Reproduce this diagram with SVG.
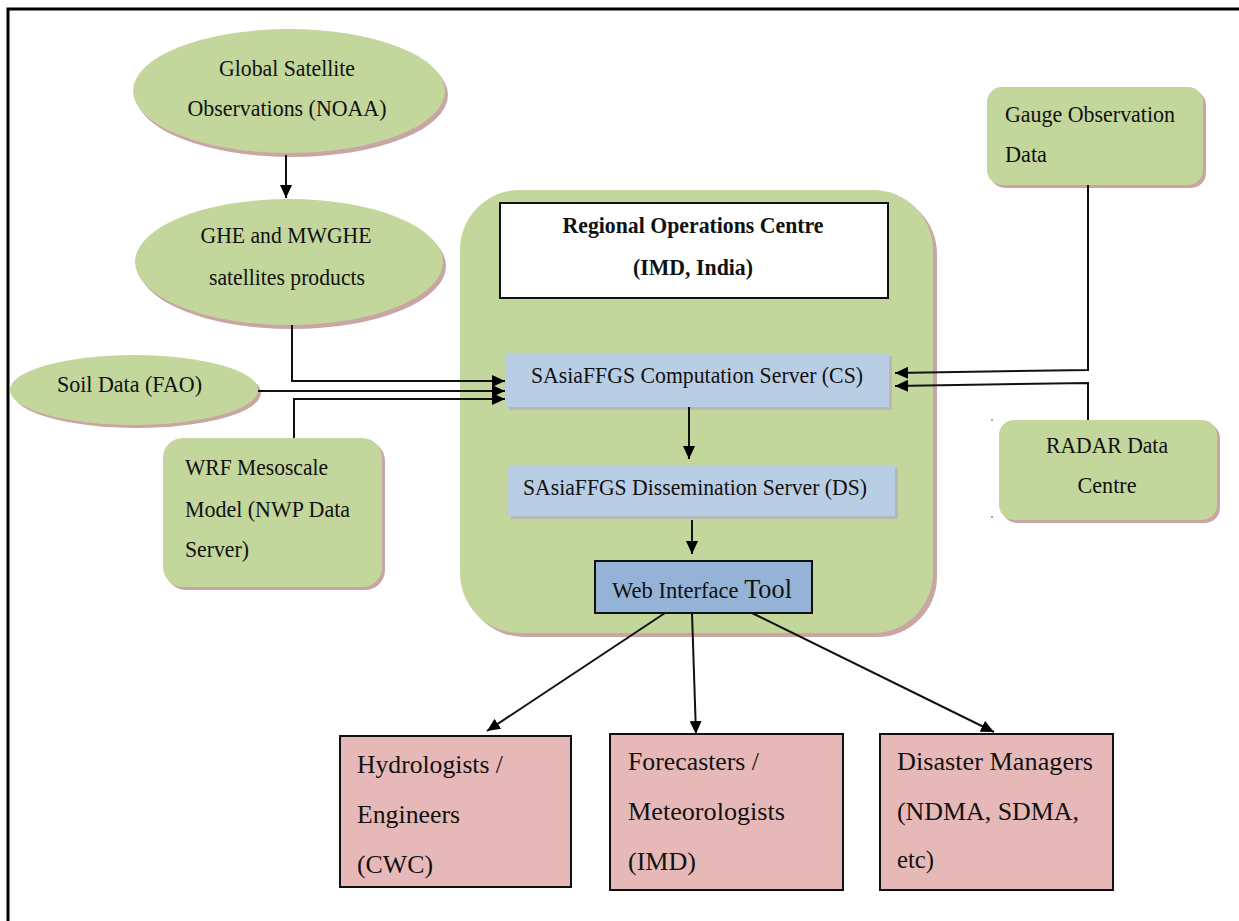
<svg xmlns="http://www.w3.org/2000/svg" width="1239" height="921" viewBox="0 0 1239 921">
<defs>
<marker id="ah" markerUnits="userSpaceOnUse" markerWidth="14" markerHeight="12" refX="13" refY="6" orient="auto">
<path d="M0,0 L13,6 L0,12 Z" fill="#000"/>
</marker>
<style>
.t{font-family:"Liberation Serif","Times New Roman",serif;font-size:24px;fill:#111;}
.tb{font-family:"Liberation Serif","Times New Roman",serif;font-size:23px;font-weight:bold;fill:#111;}
.tl{font-family:"Liberation Serif","Times New Roman",serif;font-size:26px;fill:#111;}
.big{font-size:28px;}
.g{fill:#c3d69b;}
.sh{fill:#c9a6a4;}
.bsh{fill:#b8b8b8;}
.pk{fill:#e6b9b8;stroke:#111;stroke-width:2;}
.ln{fill:none;stroke:#111;stroke-width:2;}
</style>
</defs>
<rect x="0" y="0" width="1239" height="921" fill="#fff"/>
<rect x="8" y="9" width="1260" height="960" fill="none" stroke="#000" stroke-width="3"/>

<g id="roc">
<rect class="sh" x="464" y="194" width="473" height="443" rx="60"/>
<rect class="g" x="460" y="190" width="473" height="443" rx="60"/>
</g>

<g id="global-satellite">
<ellipse class="sh" cx="292" cy="95" rx="156" ry="62"/>
<ellipse class="g" cx="289" cy="91" rx="156" ry="62"/>
<text class="t" x="287" y="76" text-anchor="middle" textLength="136" lengthAdjust="spacingAndGlyphs">Global Satellite</text>
<text class="t" x="287" y="116" text-anchor="middle" textLength="199" lengthAdjust="spacingAndGlyphs">Observations (NOAA)</text>
</g>

<g id="ghe">
<ellipse class="sh" cx="292" cy="266" rx="154" ry="63"/>
<ellipse class="g" cx="289" cy="262" rx="154" ry="63"/>
<text class="t" x="286" y="243" text-anchor="middle" textLength="171" lengthAdjust="spacingAndGlyphs">GHE and MWGHE</text>
<text class="t" x="287" y="285" text-anchor="middle" textLength="156" lengthAdjust="spacingAndGlyphs">satellites products</text>
</g>

<g id="soil">
<ellipse class="sh" cx="137" cy="393" rx="124" ry="35"/>
<ellipse class="g" cx="134" cy="390" rx="124" ry="35"/>
<text class="t" x="57" y="392" textLength="145" lengthAdjust="spacingAndGlyphs">Soil Data (FAO)</text>
</g>

<g id="wrf">
<rect class="sh" x="166" y="441" width="219" height="149" rx="20"/>
<rect class="g" x="163" y="438" width="219" height="149" rx="20"/>
<text class="t" x="185" y="475" textLength="143" lengthAdjust="spacingAndGlyphs">WRF Mesoscale</text>
<text class="t" x="185" y="517" textLength="165" lengthAdjust="spacingAndGlyphs">Model (NWP Data</text>
<text class="t" x="185" y="557" textLength="64" lengthAdjust="spacingAndGlyphs">Server)</text>
</g>

<g id="roc-title">
<rect x="500" y="203" width="388" height="95" fill="#fff" stroke="#111" stroke-width="2"/>
<text class="tb" x="693" y="233" text-anchor="middle" textLength="261" lengthAdjust="spacingAndGlyphs">Regional Operations Centre</text>
<text class="tb" x="693" y="275" text-anchor="middle" textLength="120" lengthAdjust="spacingAndGlyphs">(IMD, India)</text>
</g>

<g id="cs">
<rect class="bsh" x="509" y="356" width="383" height="54"/>
<rect x="506" y="353" width="383" height="54" fill="#b9cde5"/>
<text class="t" x="697" y="383" text-anchor="middle" textLength="332" lengthAdjust="spacingAndGlyphs">SAsiaFFGS Computation Server (CS)</text>
</g>

<g id="ds">
<rect class="bsh" x="511" y="468" width="387" height="51"/>
<rect x="508" y="465" width="387" height="51" fill="#b9cde5"/>
<text class="t" x="695" y="495" text-anchor="middle" textLength="344" lengthAdjust="spacingAndGlyphs">SAsiaFFGS Dissemination Server (DS)</text>
</g>

<g id="web">
<rect x="595" y="561" width="217" height="52" fill="#95b3d7" stroke="#111" stroke-width="2"/>
<text class="t" x="612" y="598" textLength="180" lengthAdjust="spacingAndGlyphs">Web Interface <tspan class="big">Tool</tspan></text>
</g>

<g id="gauge">
<rect class="sh" x="990" y="90" width="216" height="98" rx="15"/>
<rect class="g" x="987" y="87" width="216" height="98" rx="15"/>
<text class="t" x="1005" y="122" textLength="170" lengthAdjust="spacingAndGlyphs">Gauge Observation</text>
<text class="t" x="1005" y="162" textLength="42" lengthAdjust="spacingAndGlyphs">Data</text>
</g>

<g id="radar">
<rect class="sh" x="1002" y="423" width="218" height="100" rx="15"/>
<rect class="g" x="999" y="420" width="218" height="100" rx="15"/>
<text class="t" x="1107" y="453" text-anchor="middle" textLength="122" lengthAdjust="spacingAndGlyphs">RADAR Data</text>
<text class="t" x="1107" y="493" text-anchor="middle" textLength="59" lengthAdjust="spacingAndGlyphs">Centre</text>
<circle cx="992" cy="420" r="1" fill="#888"/>
<circle cx="992" cy="517" r="1" fill="#888"/>
</g>

<g id="hydro">
<rect class="pk" x="340" y="736" width="231" height="151"/>
<text class="tl" x="357" y="773" textLength="146" lengthAdjust="spacingAndGlyphs">Hydrologists /</text>
<text class="tl" x="357" y="823" textLength="103" lengthAdjust="spacingAndGlyphs">Engineers</text>
<text class="tl" x="357" y="873" textLength="76" lengthAdjust="spacingAndGlyphs">(CWC)</text>
</g>

<g id="fore">
<rect class="pk" x="610" y="734" width="233" height="156"/>
<text class="tl" x="628" y="770" textLength="131" lengthAdjust="spacingAndGlyphs">Forecasters /</text>
<text class="tl" x="628" y="820" textLength="157" lengthAdjust="spacingAndGlyphs">Meteorologists</text>
<text class="tl" x="628" y="870" textLength="68" lengthAdjust="spacingAndGlyphs">(IMD)</text>
</g>

<g id="disaster">
<rect class="pk" x="880" y="734" width="233" height="156"/>
<text class="tl" x="897" y="770" textLength="196" lengthAdjust="spacingAndGlyphs">Disaster Managers</text>
<text class="tl" x="897" y="820" textLength="182" lengthAdjust="spacingAndGlyphs">(NDMA, SDMA,</text>
<text class="tl" x="897" y="868" textLength="37" lengthAdjust="spacingAndGlyphs">etc)</text>
</g>

<g id="connectors">
<path class="ln" d="M286,155 L286,198" marker-end="url(#ah)"/>
<path class="ln" d="M292,325 L292,381 L505,381" marker-end="url(#ah)"/>
<path class="ln" d="M258,391 L505,391" marker-end="url(#ah)"/>
<path class="ln" d="M294,438 L294,399 L505,399" marker-end="url(#ah)"/>
<path class="ln" d="M1088,185 L1088,370 L895,373" marker-end="url(#ah)"/>
<path class="ln" d="M1088,420 L1088,383 L895,386" marker-end="url(#ah)"/>
<path class="ln" d="M689,407 L689,459" marker-end="url(#ah)"/>
<path class="ln" d="M692,520 L692,554" marker-end="url(#ah)"/>
<path class="ln" d="M665,613 L487,731" marker-end="url(#ah)"/>
<path class="ln" d="M692,613 L696,734" marker-end="url(#ah)"/>
<path class="ln" d="M752,613 L994,732" marker-end="url(#ah)"/>
</g>
</svg>
